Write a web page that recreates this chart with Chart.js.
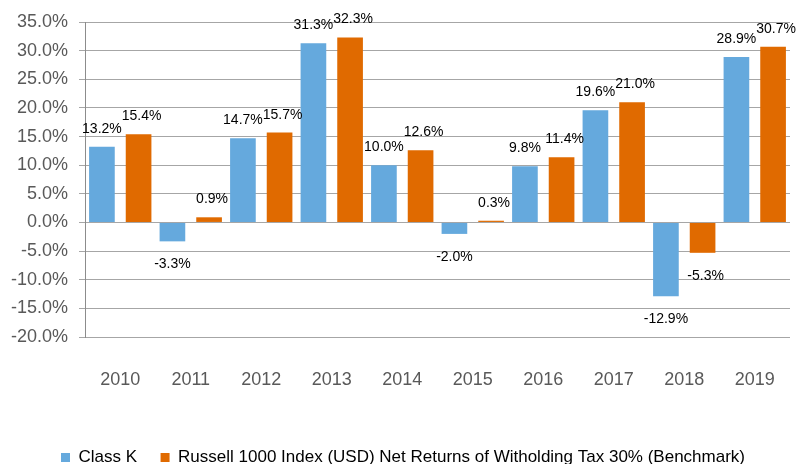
<!DOCTYPE html>
<html>
<head>
<meta charset="utf-8">
<script src="https://cdn.jsdelivr.net/npm/chart.js@4/dist/chart.umd.min.js"></script>
<style>
  html, body { margin: 0; padding: 0; background: #ffffff; }
  #wrap { width: 800px; height: 464px; position: relative; }
</style>
</head>
<body>
<div id="wrap"><canvas id="c" width="800" height="464"></canvas></div>
<script>
const categories = ['2010','2011','2012','2013','2014','2015','2016','2017','2018','2019'];
const classK = [13.2, -3.3, 14.7, 31.3, 10.0, -2.0, 9.8, 19.6, -12.9, 28.9];
const benchmark = [15.4, 0.9, 15.7, 32.3, 12.6, 0.3, 11.4, 21.0, -5.3, 30.7];
const seriesNames = ['Class K', 'Russell 1000 Index (USD) Net Returns of Witholding Tax 30% (Benchmark)'];
const yMin = -20, yMax = 35, yStep = 5;

const FONT = '"Liberation Sans", Arial, Helvetica, sans-serif';

const valueLabels = {
  id: 'valueLabels',
  afterLayout(chart) {
    if (chart.legend) { chart.legend.left += 37.5; }
  },
  afterDatasetsDraw(chart) {
    const ctx = chart.ctx;
    ctx.save();
    ctx.font = '14px ' + FONT;
    ctx.fillStyle = '#000000';
    ctx.textAlign = 'center';
    ctx.textBaseline = 'alphabetic';
    chart.data.datasets.forEach((ds, di) => {
      const meta = chart.getDatasetMeta(di);
      meta.data.forEach((el, i) => {
        const v = ds.data[i];
        const txt = v.toFixed(1) + '%';
        const dx = di === 1 ? 3 : 0;
        const y = v >= 0 ? el.y - 14 : el.y + 27;
        ctx.fillText(txt, el.x + dx, y);
      });
    });
    ctx.restore();
  }
};

new Chart(document.getElementById('c'), {
  type: 'bar',
  data: {
    labels: categories,
    datasets: [
      { label: seriesNames[0], data: classK, backgroundColor: '#65A9DD', borderWidth: 0 },
      { label: seriesNames[1], data: benchmark, backgroundColor: '#E06A00', borderWidth: 0 }
    ]
  },
  options: {
    responsive: false,
    animation: false,
    devicePixelRatio: 1,
    layout: { padding: { top: 22, right: 10, left: 0, bottom: -12 } },
    datasets: { bar: { categoryPercentage: 1.04, barPercentage: 0.7 } },
    plugins: {
      tooltip: { enabled: false },
      legend: {
        position: 'bottom',
        align: 'start',
        labels: {
          boxWidth: 9,
          boxHeight: 9,
          padding: 23.5,
          color: '#000000',
          font: { size: 17, family: FONT }
        }
      }
    },
    scales: {
      x: {
        grid: { display: false },
        border: { display: false },
        ticks: { color: '#595959', font: { size: 18, family: FONT }, padding: 24, maxRotation: 0 },
        afterFit(scale) { scale.height = 88.5; scale.paddingRight = 0; scale.paddingLeft = 0; }
      },
      y: {
        min: yMin, max: yMax,
        grid: { color: '#a6a6a6', lineWidth: 1, tickLength: 6 },
        border: { display: true, color: '#8c8c8c', width: 1 },
        ticks: {
          stepSize: yStep,
          color: '#595959',
          font: { size: 18, family: FONT },
          padding: 11,
          callback: (v) => Number(v).toFixed(1) + '%'
        },
        afterFit(scale) { scale.width = 85; }
      }
    }
  },
  plugins: [valueLabels]
});
</script>
</body>
</html>
